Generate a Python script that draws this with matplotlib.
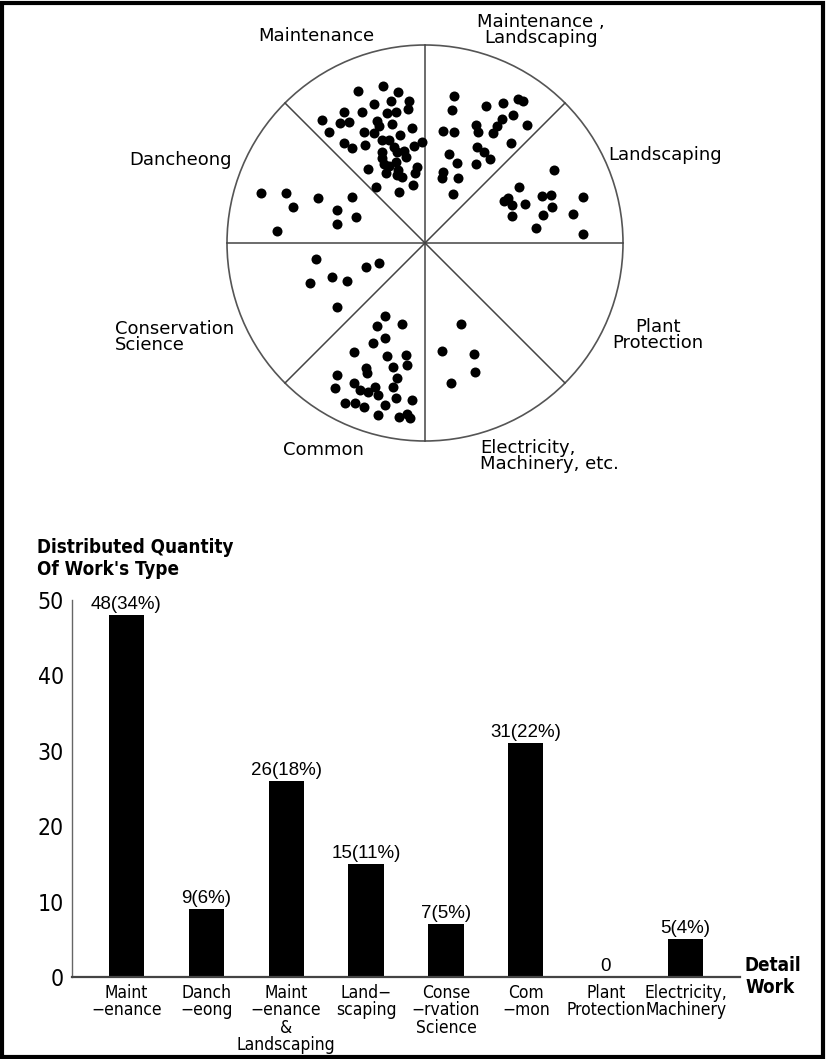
import numpy as np
import matplotlib
matplotlib.use("Agg")
import matplotlib.pyplot as plt
import matplotlib.font_manager as fm
from matplotlib.patches import Circle, Rectangle

plt.rcParams['font.family'] = ['DejaVu Sans']
ARIAL = ['Liberation Sans', 'DejaVu Sans']

# pick a condensed face when one is installed
def narrow_font(bold=False):
    for f in fm.fontManager.ttflist:
        fn = f.fname.lower()
        if ('narrow' in fn or 'condensed' in fn) and ('bold' in fn) == bold and 'oblique' not in fn \
                and 'italic' not in fn and 'mono' not in fn and 'serif' not in fn:
            return f.fname
    return None

NARROW_PATH = narrow_font(False)
NARROW_BOLD_PATH = narrow_font(True)

def fprop(size, bold=False):
    path = NARROW_BOLD_PATH if bold else NARROW_PATH
    if path:
        return fm.FontProperties(fname=path, size=size)
    return fm.FontProperties(family=ARIAL, size=size * 0.85, weight='bold' if bold else 'normal')

# --- data -----------------------------------------------------------------
bar_labels = ["Maint\n\u2212enance", "Danch\n\u2212eong", "Maint\n\u2212enance\n&\nLandscaping",
              "Land\u2212\nscaping", "Conse\n\u2212rvation\nScience", "Com\n\u2212mon",
              "Plant\nProtection", "Electricity,\nMachinery"]
counts = [48, 9, 26, 15, 7, 31, 0, 5]
shares = [34, 6, 18, 11, 5, 22, 0, 4]
y_ticks = [0, 10, 20, 30, 40, 50]

# dots in the circle diagram, offsets from the centre (circle radius = 198)
dots_maintenance = [(-67, 152), (-42, 157), (-27, 151), (-16, 142), (-34, 142), (-51, 139),
                    (-17, 134), (-29, 131), (-38, 130), (-63, 131), (-81, 131), (-103, 123),
                    (-85, 120), (-76, 121), (-48, 122), (-33, 119), (-13, 115), (-96, 111),
                    (-61, 111), (-51, 110), (-25, 108), (-43, 103), (-36, 103), (-81, 100),
                    (-73, 95), (-60, 98), (-11, 97), (-3, 101), (-43, 91), (-28, 91),
                    (-21, 92), (-43, 85), (-41, 79), (-29, 81), (-36, 77), (-27, 73),
                    (-57, 74), (-8, 76), (-10, 70), (-28, 68), (-23, 66), (-49, 56),
                    (-26, 51), (-12, 58), (-31, 96), (-39, 70), (-19, 86), (-46, 117)]
dots_maint_land = [(29, 147), (27, 133), (61, 137), (78, 140), (93, 144), (98, 142),
                   (88, 128), (77, 124), (72, 117), (51, 118), (53, 111), (68, 110),
                   (102, 118), (18, 112), (29, 111), (86, 100), (52, 96), (59, 91),
                   (65, 84), (24, 89), (32, 80), (51, 79), (18, 71), (17, 65),
                   (33, 65), (28, 49)]
dots_landscaping = [(129, 73), (94, 56), (79, 42), (87, 38), (100, 39), (117, 47),
                    (126, 48), (158, 46), (127, 36), (118, 28), (87, 27), (148, 29),
                    (111, 15), (158, 9), (83, 45)]
dots_dancheong = [(-164, 50), (-139, 50), (-132, 36), (-107, 45), (-73, 46), (-88, 33),
                  (-69, 26), (-88, 19), (-148, 12)]
dots_conservation = [(-109, -16), (-59, -24), (-46, -20), (-93, -34), (-78, -38),
                     (-115, -40), (-88, -64)]
dots_common = [(-40, -73), (-48, -83), (-23, -81), (-40, -95), (-71, -109), (-38, -113),
               (-19, -112), (-18, -122), (-32, -124), (-59, -125), (-58, -130), (-88, -132),
               (-71, -140), (-90, -145), (-50, -144), (-57, -149), (-47, -152), (-32, -144),
               (-29, -155), (-13, -157), (-80, -160), (-70, -160), (-61, -164), (-47, -172),
               (-26, -174), (-18, -171), (-15, -175), (-52, -100), (-28, -135), (-65, -147),
               (-40, -162)]
dots_electricity = [(36, -81), (17, -108), (49, -111), (50, -129), (26, -140)]

RADIUS = 198

fig = plt.figure(figsize=(8.27, 10.59), dpi=100)

# --- circle diagram ---------------------------------------------------------
ax1 = fig.add_axes([0, 559 / 1059, 1, 500 / 1059])
ax1.set_xlim(-425, 402)
ax1.set_ylim(-257, 243)
ax1.axis('off')

ax1.add_patch(Circle((0, 0), RADIUS, fill=False, edgecolor='#555555', lw=1.2))
for ang in np.deg2rad(np.arange(0, 360, 45)):
    ax1.plot([0, RADIUS * np.cos(ang)], [0, RADIUS * np.sin(ang)], color='#444444', lw=1.1)

for group in [dots_maintenance, dots_maint_land, dots_landscaping, dots_dancheong,
              dots_conservation, dots_common, dots_electricity]:
    xs, ys = zip(*group)
    ax1.scatter(xs, ys, s=52, color='black', marker='o', zorder=3, linewidths=0)

lbl = dict(fontsize=13, color='black')
ax1.text(-109, 207, "Maintenance", ha='center', va='center', **lbl)
ax1.text(116, 213, "Maintenance ,\nLandscaping", ha='center', va='center', linespacing=0.9, **lbl)
ax1.text(183, 88, "Landscaping", ha='left', va='center', **lbl)
ax1.text(-193, 83, "Dancheong", ha='right', va='center', **lbl)
ax1.text(-310, -94, "Conservation\nScience", ha='left', va='center', linespacing=0.9, **lbl)
ax1.text(233, -92, "Plant\nProtection", ha='center', va='center', multialignment='center',
         linespacing=0.9, **lbl)
ax1.text(-102, -207, "Common", ha='center', va='center', **lbl)
ax1.text(55, -213, "Electricity,\nMachinery, etc.", ha='left', va='center', linespacing=0.9, **lbl)

# --- bar chart --------------------------------------------------------------
ax2 = fig.add_axes([72 / 827, 82 / 1059, 668 / 827, 377 / 1059])
x = np.arange(len(counts))
ax2.bar(x, counts, width=0.44, color='black')
ax2.set_xlim(-0.68, 7.68)
ax2.set_ylim(0, 50)
for side in ['top', 'right']:
    ax2.spines[side].set_visible(False)
ax2.spines['left'].set_color('#666666')
ax2.spines['left'].set_linewidth(1)
ax2.spines['bottom'].set_color('#444444')
ax2.spines['bottom'].set_linewidth(1.6)

ax2.set_yticks(y_ticks)
ax2.set_yticklabels([str(t) for t in y_ticks], fontproperties=fprop(16.5))
ax2.set_xticks(x)
cat_fp = fprop(12.5)
ax2.set_xticklabels(bar_labels, fontproperties=cat_fp,
                    linespacing=0.95 * 12.5 / cat_fp.get_size_in_points())
ax2.tick_params(axis='both', length=0)
ax2.tick_params(axis='y', pad=6)
ax2.tick_params(axis='x', pad=5)

for xi, c, p in zip(x, counts, shares):
    txt = f"{c}({p}%)" if c > 0 else "0"
    ax2.text(xi, c + 0.3, txt, ha='center', va='bottom', fontsize=13.5, family=ARIAL)

fig.text(37 / 827, 1 - 538 / 1059, "Distributed Quantity\nOf Work's Type", ha='left', va='top',
         fontproperties=fprop(13.5, bold=True), linespacing=1.2)
fig.text(745 / 827, 1 - 956 / 1059, "Detail\nWork", ha='left', va='top',
         fontproperties=fprop(13.5, bold=True), linespacing=1.2)

# frame around the whole picture
fig.add_artist(Rectangle((2 / 827, 2 / 1059), 821 / 827, 1054 / 1059, transform=fig.transFigure,
                         fill=False, edgecolor='black', lw=3))

fig.savefig("out.png", dpi=100)
